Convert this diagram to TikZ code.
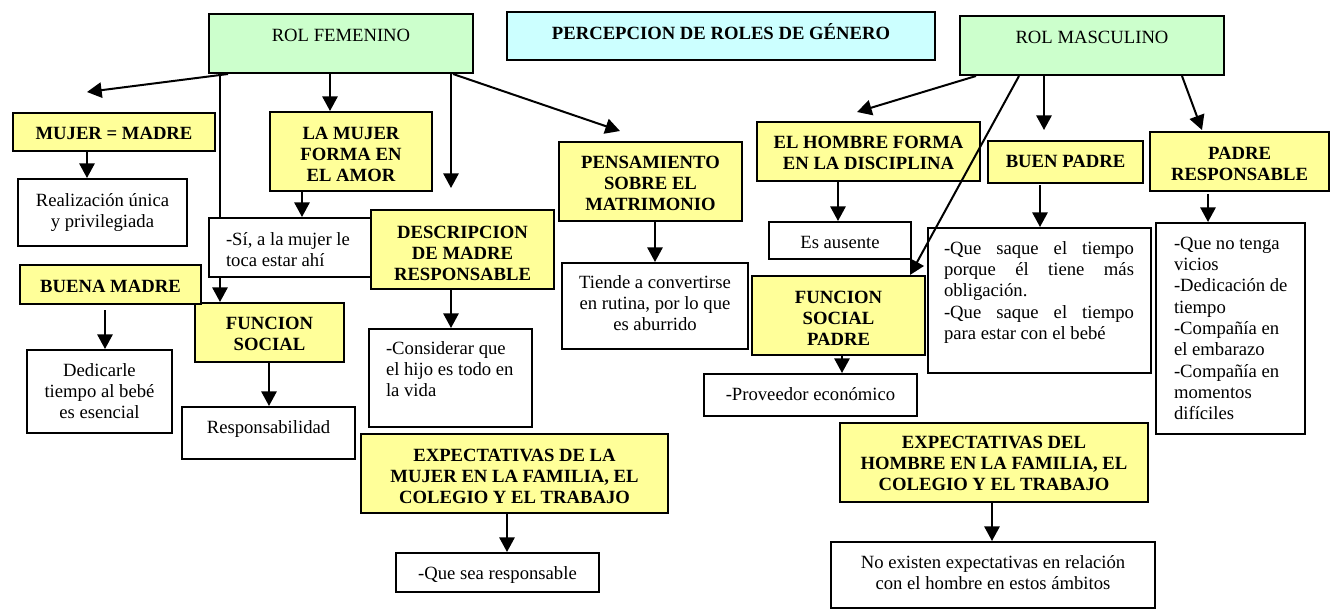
\documentclass[tikz,border=0pt]{standalone}
\usepackage{fontspec}
\setmainfont{Liberation Serif}
\usetikzlibrary{arrows.meta}
\definecolor{cyel}{HTML}{FFFF99}
\definecolor{cgrn}{HTML}{CCFFCC}
\definecolor{ccyn}{HTML}{CCFFFF}
\newdimen\pxu \pxu=0.75pt
% #1 style, #2 name, #3 x1, #4 y1, #5 x2, #6 y2, #7 first baseline from top, #8 content
\newcommand\bx[8]{\node[#1] (#2) at (#3,#4) {\parbox[c][\numexpr#6-#4\relax\pxu][t]{\numexpr#5-#3\relax\pxu}{\rule{0pt}{#7\pxu}#8}};}
\newcommand\jline[1]{\makebox[142.5pt][s]{#1}}
\tikzset{
  base/.style={draw, line width=1.5pt, anchor=north west, inner sep=0pt, font=\fontsize{14pt}{16pt}\selectfont},
  yel/.style={base, fill=cyel, font=\fontsize{14pt}{16pt}\selectfont\bfseries},
  grn/.style={base, fill=cgrn},
  cyn/.style={base, fill=ccyn, font=\fontsize{14pt}{16pt}\selectfont\bfseries},
  wht/.style={base, fill=white},
  arr/.style={line width=1.5pt, -{Triangle[length=11pt,width=11.5pt]}},
}
\begin{document}
\begin{tikzpicture}[x=0.75pt,y=-0.75pt]
\fill[white] (0,0) rectangle (1332,608);
\useasboundingbox (0,0) rectangle (1332,608);
% free ends
\coordinate (c1) at (87,92);
\coordinate (c4) at (451,188);
\coordinate (c5) at (620,131);
\coordinate (c8) at (105,310);
\coordinate (c9) at (857,112);
\coordinate (c10) at (1044,130);
\coordinate (c11) at (1202,130);
\coordinate (c12) at (1040,185);
\coordinate (c13) at (1208,194);
% boxes
\bx{grn}{rolf}{208}{13}{472}{72}{27}{\centering ROL FEMENINO}
\bx{cyn}{title}{506}{11}{934}{59}{27}{\centering PERCEPCION DE ROLES DE GÉNERO}
\bx{grn}{rolm}{959}{15}{1223}{74}{27}{\centering ROL MASCULINO}
\bx{yel}{fs}{194}{302}{343}{361}{26}{\centering FUNCION\\SOCIAL}
% line behind the boxes
\draw[arr] (rolf.south -| 220,0) -- (fs.north -| 220,0);
\bx{yel}{mm}{12}{112}{214}{150}{26}{\centering MUJER = MADRE}
\bx{wht}{real}{17}{178}{186}{245}{27}{\centering Realización única\\y privilegiada}
\bx{yel}{amor}{269}{111}{431}{190}{27}{\centering LA MUJER\\FORMA EN\\EL AMOR}
\bx{wht}{si}{208}{217}{370}{276}{27}{\raggedright\leftskip=12.75pt -Sí, a la mujer le\\toca estar ahí}
\bx{yel}{desc}{370}{209}{553}{288}{28}{\centering DESCRIPCION\\DE MADRE\\RESPONSABLE}
\bx{yel}{bm}{19}{264}{200}{303}{27}{\centering BUENA MADRE}
\bx{wht}{ded}{26}{349}{171}{432}{26}{\centering Dedicarle\\tiempo al bebé\\es esencial}
\bx{wht}{resp}{181}{406}{354}{458}{26}{\centering Responsabilidad}
\bx{wht}{cons}{368}{328}{531}{426}{25}{\raggedright\leftskip=12.75pt -Considerar que\\el hijo es todo en\\la vida}
\bx{yel}{expm}{360}{433}{667}{512}{27}{\centering EXPECTATIVAS DE LA\\MUJER EN LA FAMILIA, EL\\COLEGIO Y EL TRABAJO}
\bx{wht}{qsr}{395}{552}{598}{591}{26}{\centering -Que sea responsable}
\bx{yel}{pens}{558}{141}{741}{220}{26}{\centering PENSAMIENTO\\SOBRE EL\\MATRIMONIO}
\bx{wht}{tiende}{561}{262}{747}{348}{25}{\centering Tiende a convertirse\\en rutina, por lo que\\es aburrido}
\bx{yel}{hom}{756}{121}{979}{180}{26}{\centering EL HOMBRE FORMA\\EN LA DISCIPLINA}
\bx{yel}{bp}{987}{140}{1142}{182}{26}{\centering BUEN PADRE}
\bx{yel}{pr}{1149}{131}{1328}{190}{27}{\centering PADRE\\RESPONSABLE}
\bx{wht}{aus}{768}{221}{910}{258}{26}{\centering Es ausente}
\bx{wht}{saq}{927}{227}{1150}{372}{26}{\raggedright\leftskip=12pt \jline{-Que saque el tiempo}\\\jline{porque él tiene más}\\obligación.\\\jline{-Que saque el tiempo}\\para estar con el bebé}
\bx{wht}{vic}{1155}{222}{1304}{433}{26}{\raggedright\leftskip=13.5pt -Que no tenga\\vicios\\-Dedicación de\\tiempo\\-Compañía en\\el embarazo\\-Compañía en\\momentos\\difíciles}
\bx{yel}{fsp}{751}{275}{924}{354}{27}{\centering FUNCION\\SOCIAL\\PADRE}
\bx{wht}{prov}{703}{373}{916}{415}{26}{\centering -Proveedor económico}
\bx{yel}{exph}{839}{422}{1147}{501}{25}{\centering EXPECTATIVAS DEL\\HOMBRE EN LA FAMILIA, EL\\COLEGIO Y EL TRABAJO}
\bx{wht}{noex}{830}{541}{1154}{607}{26}{\centering No existen expectativas en relación\\con el hombre en estos ámbitos}
% connectors, left
\draw[arr] (rolf.south -| 228,0) -- (c1);
\draw[arr] (rolf.south -| 330,0) -- (amor.north -| 330,0);
\draw[arr] (rolf.south -| 451,0) -- (c4);
\draw[arr] (rolf.south -| 453,0) -- (c5);
\draw[arr] (mm.south -| 87,0) -- (real.north -| 87,0);
\draw[arr] (amor.south -| 302,0) -- (si.north -| 302,0);
\draw[arr] (c8) -- (ded.north -| 105,0);
\draw[arr] (fs.south -| 269,0) -- (resp.north -| 269,0);
\draw[arr] (desc.south -| 451,0) -- (cons.north -| 451,0);
\draw[arr] (pens.south -| 655,0) -- (tiende.north -| 655,0);
\draw[arr] (expm.south -| 507,0) -- (qsr.north -| 507,0);
% connectors, right
\draw[arr] (rolm.south -| 976,0) -- (c9);
\draw[arr] (rolm.south -| 1019,0) -- (fsp.north -| 910,0);
\draw[arr] (rolm.south -| 1044,0) -- (c10);
\draw[arr] (rolm.south -| 1182,0) -- (c11);
\draw[arr] (hom.south -| 838,0) -- (aus.north -| 838,0);
\draw[arr] (c12) -- (saq.north -| 1040,0);
\draw[arr] (c13) -- (vic.north -| 1208,0);
\draw[arr] (fsp.south -| 842,0) -- (prov.north -| 842,0);
\draw[arr] (exph.south -| 992,0) -- (noex.north -| 992,0);
\end{tikzpicture}
\end{document}
